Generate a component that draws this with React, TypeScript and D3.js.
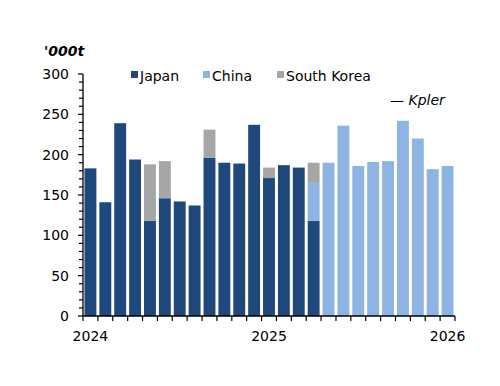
import { useEffect } from "react"
import * as d3 from "d3"

const months = d3.range(25).map((i) => `m${i}`)
const yearLabels = [
  { index: 0, label: "2024" },
  { index: 12, label: "2025" },
  { index: 24, label: "2026" },
]

const japan = [183, 141, 239, 194, 118, 146, 142, 137, 196, 190, 189, 237, 171, 187, 184, 118, 0, 0, 0, 0, 0, 0, 0, 0, 0]
const china = [0, 0, 0, 0, 0, 0, 0, 0, 0, 0, 0, 0, 0, 0, 0, 47, 190, 236, 186, 191, 192, 242, 220, 182, 186]
const southKorea = [0, 0, 0, 0, 70, 46, 0, 0, 35, 0, 0, 0, 13, 0, 0, 25, 0, 0, 0, 0, 0, 0, 0, 0, 0]

const seriesNames = ["Japan", "China", "South Korea"]
const colors = ["#1f497d", "#8db4e2", "#a6a6a6"]
const yTicks = [0, 50, 100, 150, 200, 250, 300]

export default function App() {
  useEffect(() => {
    document.body.style.margin = "0"
  }, [])

  const width = 500
  const height = 386
  const left = 83
  const right = 455
  const top = 74
  const bottom = 316
  const font = "'DejaVu Sans', sans-serif"

  const x = d3.scaleBand().domain(months).range([left, right]).paddingInner(0.2).paddingOuter(0.1)
  const y = d3.scaleLinear().domain([0, 300]).range([bottom, top])

  const table = months.map((m, i) => ({ month: m, Japan: japan[i], China: china[i], "South Korea": southKorea[i] }))
  const stacked = d3.stack<any>().keys(seriesNames)(table)

  const step = x.step()
  const minor = d3.range(0, 301, 10)

  const legendX = [131, 203, 277]

  return (
    <svg width={width} height={height} style={{ display: "block" }} fontFamily={font}>
      <rect width={width} height={height} fill="#fff" />
      <text x={44} y={56} fontSize={14} fontWeight="bold" fontStyle="italic">'000t</text>

      {stacked.map((s, si) => (
        <g key={s.key} fill={colors[si]}>
          {s.map((d, i) =>
            d[1] - d[0] > 0 ? (
              <rect key={i} x={x(months[i])} y={y(d[1])} width={x.bandwidth()} height={y(d[0]) - y(d[1])} />
            ) : null
          )}
        </g>
      ))}

      {/* y axis */}
      <line x1={left} x2={left} y1={top} y2={bottom} stroke="#000" strokeWidth={1.3} />
      {minor.map((v) => (
        <line key={v} x1={left - (v % 50 === 0 ? 5 : 4)} x2={left} y1={y(v)} y2={y(v)} stroke="#000" strokeWidth={1.2} />
      ))}
      {yTicks.map((v) => (
        <text key={v} x={69} y={y(v) + 5} fontSize={14} textAnchor="end">{v}</text>
      ))}

      {/* x axis */}
      <line x1={left} x2={right} y1={bottom} y2={bottom} stroke="#000" strokeWidth={1.3} />
      {d3.range(months.length + 1).map((i) => (
        <line key={i} x1={left + i * step} x2={left + i * step} y1={bottom} y2={bottom + 5} stroke="#000" strokeWidth={1.2} />
      ))}
      {yearLabels.map((d) => (
        <text key={d.label} x={(x(months[d.index]) ?? 0) + x.bandwidth() / 2} y={341} fontSize={14} textAnchor="middle">{d.label}</text>
      ))}

      {/* legend */}
      {seriesNames.map((name, i) => (
        <g key={name}>
          <rect x={legendX[i]} y={71} width={7} height={7} fill={colors[i]} />
          <text x={legendX[i] + 9} y={81} fontSize={14}>{name}</text>
        </g>
      ))}
      <text x={390} y={105} fontSize={14} fontStyle="italic">— Kpler</text>
    </svg>
  )
}
